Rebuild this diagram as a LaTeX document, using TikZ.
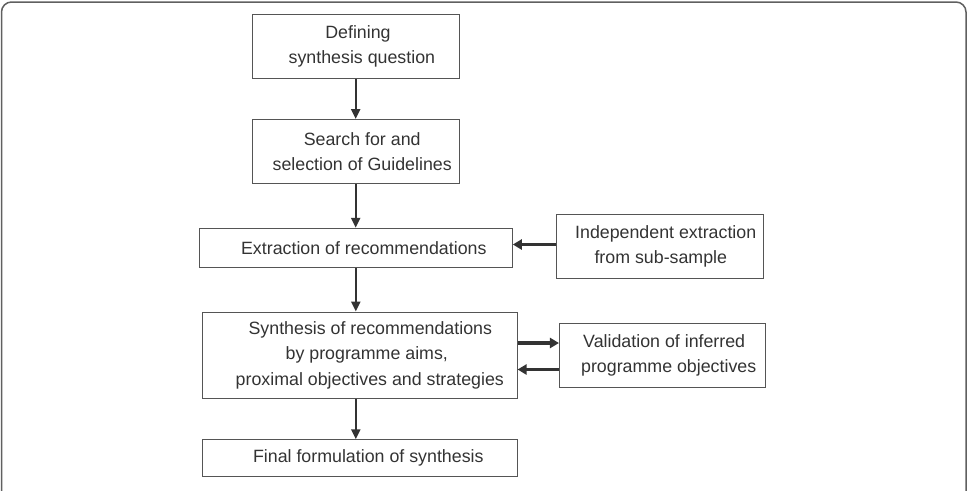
\documentclass[tikz,border=0pt]{standalone}
\usepackage{fontspec}
\setmainfont{Liberation Sans}
\usetikzlibrary{arrows.meta}
\definecolor{boxgray}{HTML}{555555}
\definecolor{textgray}{HTML}{333333}
\definecolor{arrgray}{HTML}{333333}
\definecolor{framegray}{HTML}{606060}
\newcommand{\sh}[1]{\hspace*{#1pt}}
\begin{document}
\begin{tikzpicture}[x=1pt,y=-1pt,
  box/.style={draw=boxgray, line width=1pt, inner sep=0pt, align=center,
    font=\fontsize{17.8}{25.6}\selectfont, text=textgray},
  varr/.style={-{Triangle[length=10pt,width=9pt]}, line width=2.4pt, draw=arrgray, fill=arrgray},
  harr/.style={-{Triangle[length=9pt,width=10pt]}, line width=3.3pt, draw=arrgray, fill=arrgray}]
\useasboundingbox (0,0) rectangle (971,490);
\begin{scope}
\clip (0,0) rectangle (971,490);
\draw[framegray, line width=1.5pt, rounded corners=10pt] (1.5,2) rectangle (966,530);
\end{scope}
\node[box, minimum width=207pt, minimum height=64pt] (a) at (355.7,46.5) {\sh{4.6}Defining\\\sh{12.4}synthesis question};
\node[box, minimum width=207pt, minimum height=64pt] (b) at (355.7,151.5) {\sh{13}Search for and\\\sh{13}selection of Guidelines};
\node[box, minimum width=313pt, minimum height=39.5pt] (c) at (355.8,248) {\sh{16}Extraction of recommendations};
\node[box, minimum width=206.5pt, minimum height=63.6pt] (f) at (660,246.5) {\sh{11.4}Independent extraction\\\sh{1.6}from sub-sample};
\node[box, minimum width=314.5pt, minimum height=86pt] (d) at (359.8,355) {\sh{21}Synthesis of recommendations\\\sh{14}by programme aims,\\\sh{20}proximal objectives and strategies};
\node[box, minimum width=206.5pt, minimum height=64pt] (g) at (662.7,355.5) {\sh{3}Validation of inferred\\\sh{12}programme objectives};
\node[box, minimum width=314.5pt, minimum height=36.5pt] (e) at (359.8,458) {\sh{17}Final formulation of synthesis};
\draw[varr] (a.south) -- (a.south |- b.north);
\draw[varr] (b.south) -- (b.south |- c.north);
\draw[varr] (c.south) -- (c.south |- d.north);
\draw[varr] (c.south |- d.south) -- (c.south |- e.north);
\draw[harr] ([yshift=2pt]f.west) -- ([yshift=2pt]f.west -| c.east);
\draw[harr] ([yshift=12pt]d.east) -- ([yshift=12pt]d.east -| g.west);
\draw[harr] ([yshift=-14pt]g.west) -- ([yshift=-14pt]g.west -| d.east);
\end{tikzpicture}
\end{document}
